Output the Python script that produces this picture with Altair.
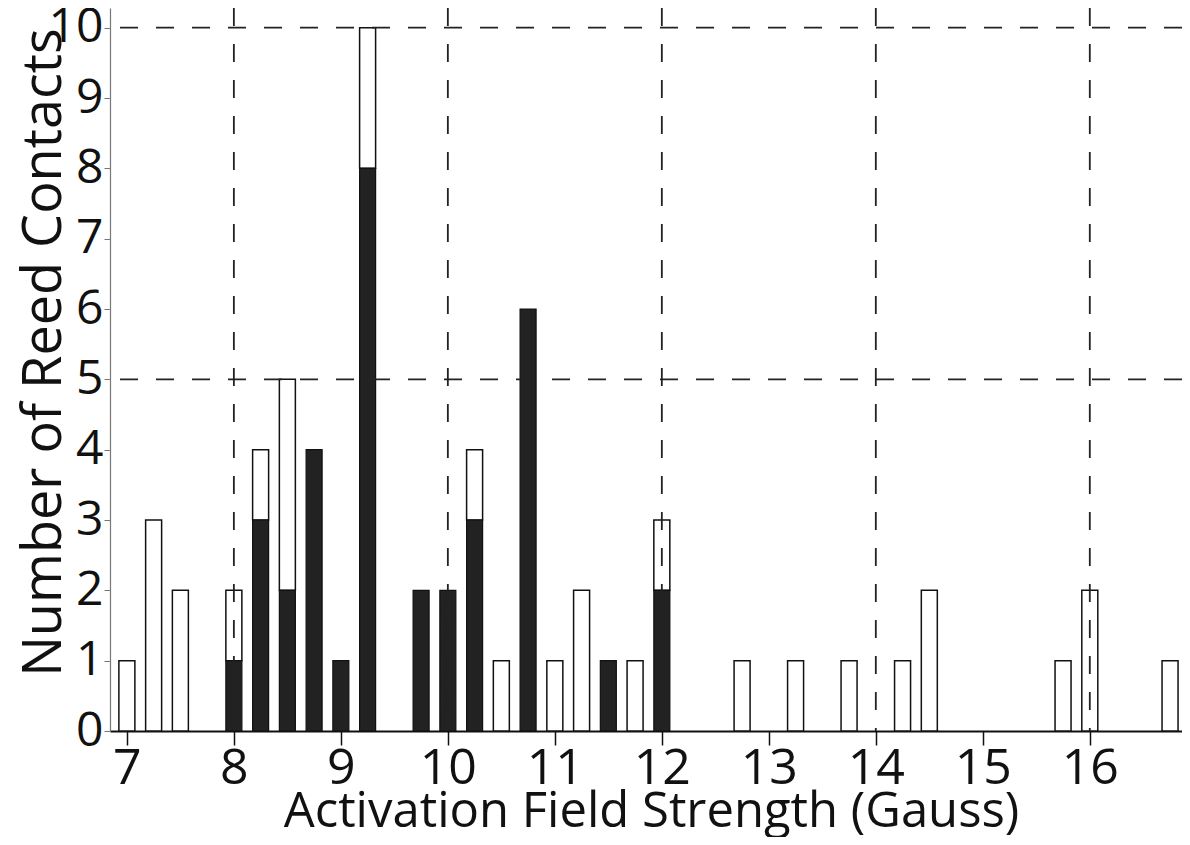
import altair as alt
import pandas as pd

# Bin centres (Gauss) and counts
field = [7.0, 7.25, 7.5, 8.0, 8.25, 8.5, 8.75, 9.0, 9.25, 9.75, 10.0, 10.25, 10.5,
         10.75, 11.0, 11.25, 11.5, 11.75, 12.0, 12.75, 13.25, 13.75, 14.25, 14.5,
         15.75, 16.0, 16.75]
black = [0, 0, 0, 1, 3, 2, 4, 1, 8, 2, 2, 3, 0,
         6, 0, 0, 1, 0, 2, 0, 0, 0, 0, 0,
         0, 0, 0]
white = [1, 3, 2, 1, 1, 3, 0, 0, 2, 0, 0, 1, 1,
         0, 1, 2, 0, 1, 1, 1, 1, 1, 1, 2,
         1, 2, 1]

x_ticks = [7, 8, 9, 10, 11, 12, 13, 14, 15, 16]
y_ticks = [0, 1, 2, 3, 4, 5, 6, 7, 8, 9, 10]
x_grid = [8, 10, 12, 14, 16]
y_grid = [5, 10]

FONT = "Open Sans"

df = pd.DataFrame({"field": field, "black": black, "white": white})
df["top"] = df["black"] + df["white"]

W, H = 1072, 723
xscale = alt.Scale(domain=[6.889, 16.815], nice=False, zero=False)
yscale = alt.Scale(domain=[0, 10.28], nice=False, zero=True)

xaxis = alt.Axis(values=x_ticks, title="Activation Field Strength (Gauss)", grid=False,
                 format="d",
                 labelFontSize=50, labelFont=FONT, labelColor="#111", labelPadding=-2,
                 tickSize=14, tickColor="#111", tickWidth=1.5,
                 domainColor="#111", domainWidth=2,
                 titleFont=FONT, titleFontSize=49, titleFontWeight="normal", titleColor="#111",
                 titleBaseline="alphabetic", titleY=95, titleX=541)
yaxis = alt.Axis(values=y_ticks, title="Number of Reed Contacts", grid=False,
                 format="d",
                 labelFontSize=48, labelFont=FONT, labelColor="#111", labelPadding=1,
                 tickSize=6, tickColor="#777", tickWidth=1,
                 domainColor="#777", domainWidth=1.2,
                 titleFont=FONT, titleFontSize=54, titleFontWeight="normal", titleColor="#111",
                 titleAngle=-90, titleBaseline="alphabetic", titleAlign="center",
                 titleX=-50, titleY=344)

base = alt.Chart(df)

black_bars = base.transform_filter("datum.black > 0").mark_bar(
    size=16, color="#222", stroke="#111", strokeWidth=1.2
).encode(
    x=alt.X("field:Q", scale=xscale, axis=xaxis),
    y=alt.Y("black:Q", scale=yscale, axis=yaxis),
    y2=alt.datum(0),
)

white_bars = base.transform_filter("datum.white > 0").mark_bar(
    size=16, fill="white", stroke="#111", strokeWidth=1.5
).encode(
    x=alt.X("field:Q", scale=xscale, axis=xaxis),
    y=alt.Y("top:Q", scale=yscale, axis=yaxis),
    y2="black:Q",
)

vgrid = alt.Chart(pd.DataFrame({"g": x_grid})).mark_rule(
    color="#222", strokeWidth=1.8, strokeDash=[18, 18]
).encode(x=alt.X("g:Q", scale=xscale, axis=xaxis))

hgrid = alt.Chart(pd.DataFrame({"g": y_grid})).mark_rule(
    color="#222", strokeWidth=1.8, strokeDash=[18, 18]
).encode(y=alt.Y("g:Q", scale=yscale, axis=yaxis))

chart = alt.layer(white_bars, black_bars, vgrid, hgrid).properties(
    width=W, height=H,
    autosize=alt.AutoSizeParams(type="none"),
    padding={"left": 102, "top": 0, "right": 0, "bottom": 106},
    background="white",
).configure_view(stroke=None, strokeWidth=0)

chart.save("out.html", embed_options={"renderer": "svg", "actions": False})
